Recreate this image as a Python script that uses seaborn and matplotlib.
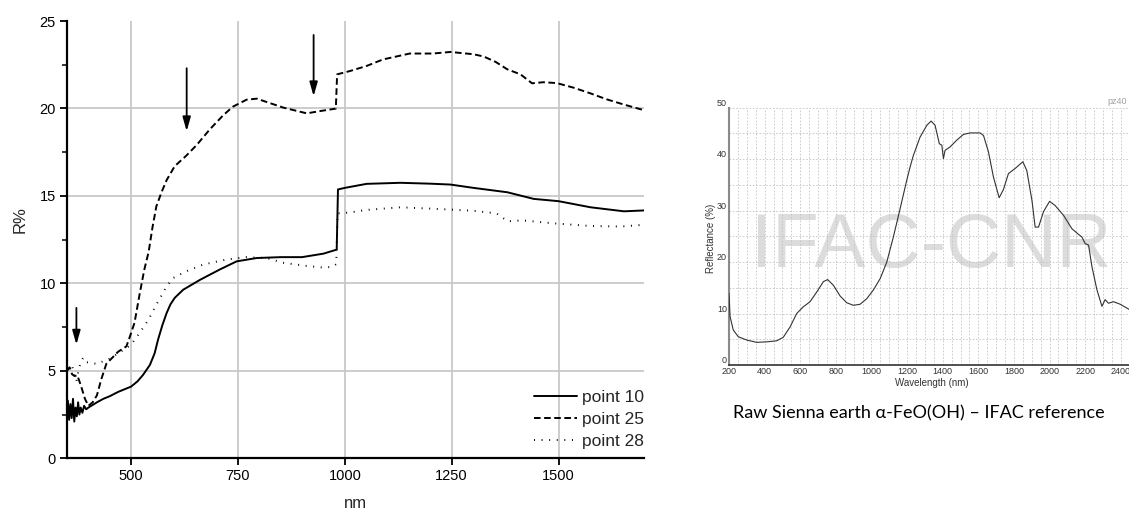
import numpy as np
import pandas as pd
import matplotlib
matplotlib.use("Agg")
import matplotlib.pyplot as plt
from matplotlib.ticker import MultipleLocator
import seaborn as sns

# ---------------- data: left chart (R% vs nm) ----------------
p10_nm = [352, 355, 358, 361, 364, 367, 370, 373, 376, 379, 382, 386, 390, 395, 400, 410, 420,
          435, 450, 470, 500, 515, 528, 544, 555, 563, 573, 583, 592, 602, 622, 661, 708, 747,
          794, 850, 900, 950, 981, 984, 1000, 1051, 1130, 1200, 1247, 1301, 1380, 1442, 1500,
          1575, 1653, 1700]
p10_val = [3.3, 2.2, 3.1, 2.3, 3.4, 2.1, 2.9, 2.4, 3.2, 2.5, 2.9, 2.6, 3.0, 2.8, 2.9, 3.05, 3.2,
           3.4, 3.55, 3.8, 4.1, 4.4, 4.77, 5.34, 6.0, 6.78, 7.6, 8.3, 8.8, 9.17, 9.64, 10.2, 10.8,
           11.26, 11.45, 11.5, 11.5, 11.7, 11.93, 15.37, 15.46, 15.69, 15.75, 15.7, 15.65, 15.46,
           15.21, 14.83, 14.7, 14.35, 14.12, 14.17]

p25_nm = [350, 356, 362, 368, 374, 382, 392, 400, 410, 420, 430, 442, 458, 470, 489, 497, 508,
          520, 531, 541, 550, 559, 571, 583, 602, 629, 653, 684, 715, 738, 770, 794, 856, 911,
          942, 979, 982, 1012, 1051, 1089, 1152, 1206, 1247, 1301, 1325, 1353, 1380, 1411, 1438,
          1465, 1496, 1535, 1575, 1613, 1652, 1700]
p25_val = [5.0, 5.2, 4.8, 4.7, 4.75, 4.2, 3.4, 3.0, 3.2, 3.6, 4.5, 5.4, 5.8, 6.1, 6.4, 6.95, 7.75,
           9.4, 10.8, 11.8, 13.2, 14.4, 15.2, 15.9, 16.7, 17.3, 17.9, 18.8, 19.6, 20.1, 20.5,
           20.56, 20.05, 19.72, 19.85, 19.99, 21.95, 22.14, 22.43, 22.8, 23.14, 23.14, 23.23,
           23.1, 22.97, 22.66, 22.24, 21.95, 21.44, 21.5, 21.45, 21.19, 20.86, 20.52, 20.23, 19.9]

p28_nm = [350, 356, 362, 368, 372, 376, 382, 388, 395, 405, 420, 450, 489, 500, 520, 540, 559,
          583, 598, 629, 668, 722, 769, 817, 855, 910, 950, 972, 980, 983, 1011, 1051, 1130, 1222,
          1301, 1355, 1381, 1416, 1495, 1575, 1645, 1700]
p28_val = [5.6, 5.1, 5.3, 4.6, 4.4, 4.9, 5.5, 5.75, 5.5, 5.45, 5.4, 5.7, 6.3, 6.5, 7.17, 7.9, 8.78,
           9.83, 10.3, 10.69, 11.07, 11.36, 11.5, 11.45, 11.18, 11.0, 10.9, 10.95, 11.1, 14.0,
           14.05, 14.2, 14.35, 14.25, 14.15, 14.0, 13.55, 13.6, 13.42, 13.28, 13.25, 13.35]

series_labels = ["point 10", "point 25", "point 28"]
x_ticks = [500, 750, 1000, 1250, 1500]
y_ticks = [0, 5, 10, 15, 20, 25]

# arrows (annotation): x position, tail value, head value
arrow_x = [372, 630, 927]
arrow_tail = [8.6, 22.3, 24.2]
arrow_head = [6.5, 18.7, 20.7]

# ---------------- data: right chart (IFAC reference) ----------------
ref_nm = [200, 206, 224, 252, 299, 356, 412, 468, 505, 543, 580, 617, 655, 693, 730, 754, 786,
          824, 861, 898, 936, 974, 1011, 1049, 1086, 1123, 1161, 1198, 1217, 1235, 1273, 1311,
          1335, 1357, 1381, 1395, 1404, 1413, 1442, 1479, 1516, 1554, 1610, 1629, 1657, 1685,
          1717, 1741, 1769, 1807, 1850, 1872, 1901, 1919, 1938, 1966, 2000, 2031, 2078, 2125,
          2162, 2181, 2200, 2219, 2238, 2266, 2294, 2312, 2331, 2359, 2397, 2447]
ref_val = [13.9, 9.4, 6.8, 5.5, 4.85, 4.4, 4.5, 4.7, 5.4, 7.4, 10.0, 11.3, 12.3, 14.2, 16.2, 16.6,
           15.5, 13.4, 12.1, 11.6, 11.8, 12.9, 14.6, 16.8, 20.0, 24.9, 30.4, 35.9, 38.5, 40.7,
           44.3, 46.6, 47.4, 46.6, 43.0, 42.7, 40.1, 41.7, 42.4, 43.7, 44.8, 45.1, 45.1, 44.6,
           41.4, 36.5, 32.5, 34.1, 37.2, 38.2, 39.5, 37.8, 32.0, 26.8, 26.8, 29.8, 31.8, 31.0,
           29.1, 26.5, 25.4, 24.9, 23.6, 23.3, 19.1, 14.6, 11.4, 12.7, 12.0, 12.3, 11.8, 10.8]
ref_x_ticks = list(range(200, 2401, 200))
ref_y_ticks = [0, 10, 20, 30, 40, 50]
caption = "Raw Sienna earth \u03b1-FeO(OH) \u2013 IFAC reference"

# ---------------- figure ----------------
sns.set_theme(style="white")
plt.rcParams["font.family"] = ["Liberation Sans", "DejaVu Sans"]

W, H = 1129, 511
fig = plt.figure(figsize=(W / 100, H / 100), dpi=100)
fig.patch.set_facecolor("white")

# ---- left chart ----
ax = fig.add_axes([67 / W, 1 - 458.3 / H, (644 - 67) / W, (458.3 - 21) / H])
ax.set_facecolor("white")
styles = ["-", (0, (3.4, 1.8)), (0, (0.5, 3.4))]
for nm, val, lab, ls in zip([p10_nm, p25_nm, p28_nm], [p10_val, p25_val, p28_val],
                            series_labels, styles):
    df = pd.DataFrame({"nm": nm, "R": val})
    sns.lineplot(data=df, x="nm", y="R", ax=ax, color="black", lw=1.4, linestyle=ls,
                 label=lab, estimator=None, sort=False)

ax.set_xlim(350, 1700)
ax.set_ylim(0, 25)
ax.set_xticks(x_ticks)
ax.set_yticks(y_ticks)
ax.yaxis.set_minor_locator(MultipleLocator(2.5))
ax.grid(True, which="major", color="#c8c8c8", lw=1.3)
ax.set_axisbelow(True)
for sp in ["top", "right"]:
    ax.spines[sp].set_visible(False)
for sp in ["left", "bottom"]:
    ax.spines[sp].set_color("black")
    ax.spines[sp].set_linewidth(1.6)
ax.tick_params(axis="both", which="major", direction="out", length=5, width=1.3,
               color="black", labelsize=10.5, labelcolor="black", pad=3,
               left=True, bottom=True)
ax.tick_params(axis="y", which="minor", direction="out", length=3.5, width=1.1,
               color="black", left=True)
ax.yaxis.get_gridlines()[-1].set_visible(False)
ax.set_xlabel("nm", fontsize=12)
ax.set_ylabel("R%", fontsize=12)
ax.xaxis.set_label_coords(0.5, -0.087)
ax.yaxis.set_label_coords(-0.068, 0.545)

for xa, yt, yh in zip(arrow_x, arrow_tail, arrow_head):
    ax.annotate("", xy=(xa, yh), xytext=(xa, yt),
                arrowprops=dict(arrowstyle="-|>,head_length=0.7,head_width=0.2",
                                color="black", lw=1.3, shrinkA=0, shrinkB=0))

leg = ax.legend(loc="lower right", bbox_to_anchor=(1.0, 0.022), frameon=False,
                handlelength=2.45, handletextpad=0.3, labelspacing=0.38, fontsize=12.5,
                borderaxespad=0, borderpad=0)

# ---- right chart (reference spectrum) ----
ax2 = fig.add_axes([729 / W, 1 - 365 / H, (W - 729) / W, (365 - 107.7) / H])
ax2.set_facecolor("white")
dfr = pd.DataFrame({"nm": ref_nm, "R": ref_val})
sns.lineplot(data=dfr, x="nm", y="R", ax=ax2, color="#333333", lw=0.8,
             estimator=None, sort=False, zorder=3)
ax2.set_xlim(200, 2446)
ax2.set_ylim(0, 50)
ax2.set_xticks(ref_x_ticks)
ax2.set_yticks(ref_y_ticks)
ax2.xaxis.set_minor_locator(MultipleLocator(50))
ax2.yaxis.set_minor_locator(MultipleLocator(5))
ax2.grid(True, which="both", color="#c4c4c4", lw=0.6, linestyle=(0, (2, 2)))
ax2.set_axisbelow(True)
ax2.set_xlabel("")
ax2.set_ylabel("")
for sp in ["top", "right"]:
    ax2.spines[sp].set_visible(False)
ax2.spines["left"].set_color("#8a8a8a")
ax2.spines["left"].set_linewidth(1.5)
ax2.spines["bottom"].set_color("#333333")
ax2.spines["bottom"].set_linewidth(1.2)
ax2.tick_params(axis="both", which="both", length=0, labelsize=6.5, labelcolor="#333333",
                pad=1.5)
plt.setp(ax2.get_yticklabels(), va="bottom")

ax2.text(0.505, 0.382, "IFAC-CNR", transform=ax2.transAxes, ha="center", va="baseline",
         fontsize=55, color="#dcdcdc", zorder=0.3)
ax2.text((1127 - 729) / (W - 729), (365 - 101) / (365 - 107.7), "pz40",
         transform=ax2.transAxes, ha="right", va="center", fontsize=6.5, color="#a0a0a0")

fig.text(711 / W, 1 - 238 / H, "Reflectance (%)", rotation=90, ha="center", va="center",
         fontsize=7, color="#333333")
fig.text(932 / W, 1 - 383 / H, "Wavelength (nm)", ha="center", va="center",
         fontsize=7, color="#333333")
fig.text(733 / W, 1 - 418 / H, caption, ha="left", va="baseline", fontsize=13,
         color="black", family=["Lato", "DejaVu Sans"])

fig.savefig("out.png", dpi=100, facecolor="white")
